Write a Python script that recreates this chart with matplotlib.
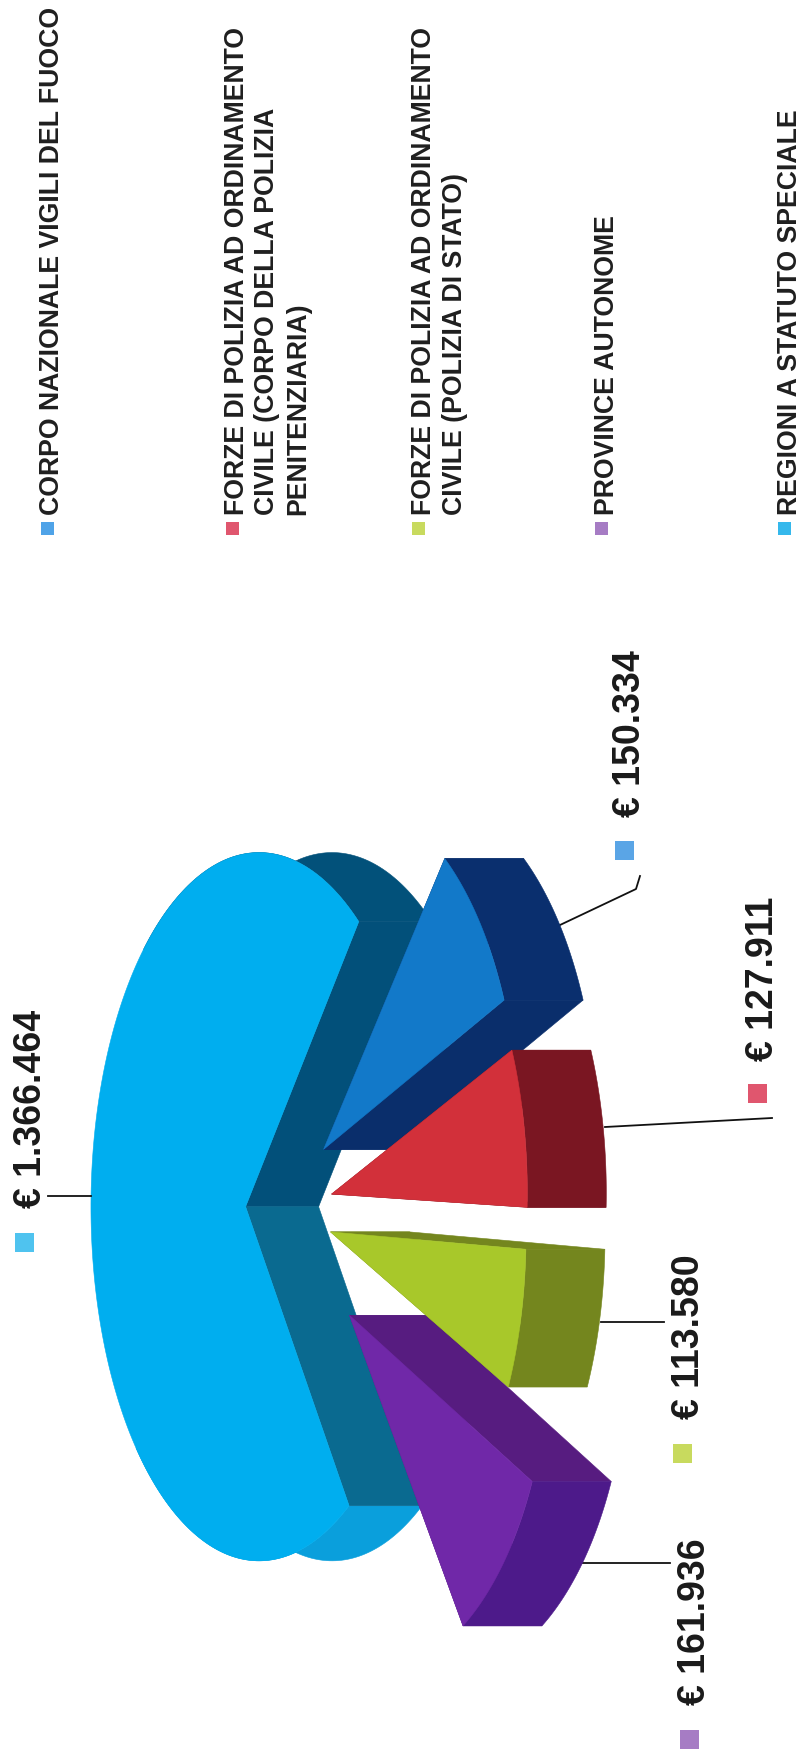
import numpy as np
import matplotlib
matplotlib.use("Agg")
import matplotlib.pyplot as plt
from matplotlib.patches import Polygon, Rectangle

plt.rcParams['font.family'] = ['Liberation Sans', 'DejaVu Sans']

# values in euro, same order as the slices going round the pie
slice_values = [150334, 127911, 113580, 161936, 1366464]
slice_labels = ['€ 150.334', '€ 127.911', '€ 113.580', '€ 161.936', '€ 1.366.464']
legend_lines = [
    'CORPO NAZIONALE VIGILI DEL FUOCO',
    'FORZE DI POLIZIA AD ORDINAMENTO\nCIVILE (CORPO DELLA POLIZIA\nPENITENZIARIA)',
    'FORZE DI POLIZIA AD ORDINAMENTO\nCIVILE (POLIZIA DI STATO)',
    'PROVINCE AUTONOME',
    'REGIONI A STATUTO SPECIALE',
]

W, H = 802, 1762
# pie projection, the page is scanned sideways so "down" of the pie is +x
CX, CY = 245.6, 1206.7
SMALL_VIEW = (170.0, 353.0, 0.1)
BIG_VIEW = (167.0, 353.0, 0.08)
START = -50.0
DEPTH_BIG, DEPTH_SMALL = 73, 79

# explode offset in disc units and radius for each small slice
offsets = [(0.438, -0.155), (0.4815, -0.034), (0.476, 0.068), (0.576, 0.29)]
radii = [0.95, 0.94, 0.94, 0.945]
top_colors = ['#1279c9', '#d2303a', '#a8c82a', '#7028a8', '#00aeef']
side_colors = ['#0a2e6b', '#7a1620', '#74861e', '#571c80']
rim_colors = ['#0a2f6e', '#7a1622', '#74861e', '#4d1a8a']


def proj(u, v, view=SMALL_VIEW):
    a, b, k = view
    d = 1 - k * np.asarray(u)
    return CX + a * np.asarray(u) / d, CY + b * np.asarray(v) / d


def arc(a0, a1, r=1.0, off=(0, 0), n=80, view=SMALL_VIEW):
    t = np.radians(np.linspace(a0, a1, n))
    x, y = proj(off[0] + r * np.cos(t), off[1] + r * np.sin(t), view)
    return np.column_stack([x, y])


def quad(ax, p0, p1, depth, color, z):
    pts = [p0, p1, (p1[0] + depth, p1[1]), (p0[0] + depth, p0[1])]
    ax.add_patch(Polygon(pts, closed=True, fc=color, ec=color, lw=0.4, zorder=z))


def band(ax, pts, depth, color, z):
    shifted = pts[::-1] + np.array([depth, 0])
    ax.add_patch(Polygon(np.vstack([pts, shifted]), closed=True, fc=color, ec=color, lw=0.4, zorder=z))


fig = plt.figure(figsize=(W / 100, H / 100), dpi=100)
ax = fig.add_axes([0, 0, 1, 1])
ax.set_xlim(0, W)
ax.set_ylim(H, 0)
ax.axis('off')

angles = START + np.concatenate([[0], np.cumsum(slice_values)]) / np.sum(slice_values) * 360
apex = np.array(proj(0.0, 0.0))

# big slice first, it sits behind everything
a_end, a_start = angles[4], angles[5]
band(ax, arc(a_start - 80, a_start, view=BIG_VIEW), DEPTH_BIG, '#02517a', 1)
band(ax, arc(a_end, a_end + 80, view=BIG_VIEW), DEPTH_BIG, '#0a9fdc', 1)
quad(ax, arc(a_start - 1, a_start, view=BIG_VIEW)[-1], apex, DEPTH_BIG, '#02507a', 2)
quad(ax, apex, arc(a_end, a_end + 1, view=BIG_VIEW)[0], DEPTH_BIG, '#0a6a90', 2)
big = arc(a_end, a_start, n=300, view=BIG_VIEW)
ax.add_patch(Polygon(np.vstack([[apex], big]), closed=True, fc=top_colors[4], ec=top_colors[4], lw=0.4, zorder=3))

# small slices, painter order so red sits on blue and green on purple
for i, z in zip([0, 3, 1, 2], [10, 20, 30, 40]):
    off = offsets[i]
    pts = arc(angles[i], angles[i + 1], radii[i], off)
    tip = np.array(proj(off[0], off[1]))
    quad(ax, tip, pts[0], DEPTH_SMALL, side_colors[i], z)
    quad(ax, tip, pts[-1], DEPTH_SMALL, side_colors[i], z)
    band(ax, pts, DEPTH_SMALL, rim_colors[i], z + 1)
    ax.add_patch(Polygon(np.vstack([[tip], pts]), closed=True, fc=top_colors[i], ec=top_colors[i], lw=0.4, zorder=z + 2))

# value labels: baseline x, start y, then marker and leader line
label_pos = [(640, 817), (773, 1061), (699, 1419), (705, 1705), (41, 1208)]
marker_pos = [(615, 841), (748, 1084), (673, 1444), (680, 1730), (15, 1233)]
marker_colors = ['#5aa5e6', '#e0566e', '#c8da5e', '#a67cc4', '#4fc3ef']
leaders = [
    [(560, 925), (636, 889), (640, 876)],
    [(605, 1127), (772, 1118)],
    [(600.7, 1321.7), (664, 1321.7)],
    [(578, 1563), (670, 1563)],
    [(48, 1196), (91, 1196)],
]
for lab, (x, y), (mx, my), col, line in zip(slice_labels, label_pos, marker_pos, marker_colors, leaders):
    ax.text(x, y, lab, rotation=90, rotation_mode='anchor', ha='left', va='baseline',
            fontsize=27, fontweight='bold', color='#1a1a1a', zorder=60)
    ax.add_patch(Rectangle((mx, my), 19, 19, fc=col, ec='none', zorder=60))
    line = np.array(line)
    ax.plot(line[:, 0], line[:, 1], color='#111111', lw=1.3, zorder=5)

# legend down the top of the page
legend_x = [59, 244, 431, 614, 797]
legend_marker_x = [41, 226, 412, 595, 778]
legend_colors = ['#4fa3e8', '#e0566e', '#c8da5e', '#a67cc4', '#35b8ec']
for text, x, mx, col in zip(legend_lines, legend_x, legend_marker_x, legend_colors):
    for j, part in enumerate(text.split('\n')):
        ax.text(x + j * 30.5, 515, part, rotation=90, rotation_mode='anchor', ha='left', va='baseline',
                fontsize=19.2, fontweight='bold', color='#1f1f1f')
    ax.add_patch(Rectangle((mx, 522), 13, 13, fc=col, ec='none'))

fig.savefig('out.png', dpi=100)
